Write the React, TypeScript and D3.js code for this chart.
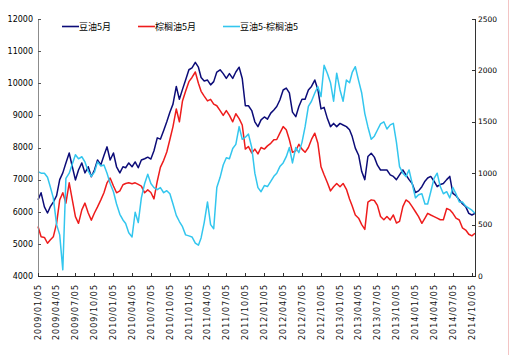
import React from "react";
import * as d3 from "d3";

// Semi-monthly observation dates (5th and 20th of each month), 2009/01 – 2014/10
const dates: Date[] = [];
for (let m = 0; m < 70; m++) {
  dates.push(new Date(2009, m, 5));
  dates.push(new Date(2009, m, 20));
}

// Quarterly tick labels
const tickDates: Date[] = [];
for (let k = 0; k < 24; k++) tickDates.push(new Date(2009, 3 * k, 5));

const leftTicks = [4000, 5000, 6000, 7000, 8000, 9000, 10000, 11000, 12000];
const rightTicks = [0, 500, 1000, 1500, 2000, 2500];

const seriesNames = ["豆油5月", "棕榈油5月", "豆油5-棕榈油5"];

// 豆油5月 (left axis)
const bean = [
  6370, 6590, 6150, 5960, 6150, 6300, 6500, 7000, 7210, 7520,
  7830, 7400, 6990, 7300, 7520, 7210, 7400, 7090, 7300, 7610,
  7460, 7750, 8020, 7610, 7830, 7400, 7210, 7400, 7370, 7520,
  7400, 7550, 7370, 7610, 7650, 7700, 7640, 7900, 8300, 8260,
  8530, 8800, 9100, 9350, 9900, 9500, 9810, 10100, 10420, 10480,
  10650, 10500, 10180, 10070, 10100, 9950, 10050, 10350, 10420, 10300,
  10150, 10300, 10150, 10350, 10500, 10150, 9300, 9300, 9150, 8800,
  8650, 8860, 8950, 8880, 9070, 9170, 9275, 9480, 9790, 9850,
  9700, 9100, 8960, 9275, 9500, 9500, 9790, 9900, 10100, 9800,
  9200, 9250, 8900, 8650, 8750, 8650, 8750, 8700, 8650, 8550,
  8340, 7980, 7760, 7250, 7000, 7720, 7820, 7700, 7450, 7300,
  7300, 7300, 7150, 7100, 7000, 7150, 7300, 7150, 7000, 6880,
  6600, 6650, 6780, 6950, 7050, 7100, 6950, 6780, 6850, 6880,
  7000, 7100, 6570, 6500, 6370, 6250, 6160, 5950, 5900, 5950,
];

// 棕榈油5月 (left axis)
const palm = [
  5540, 5220, 5200, 5020, 5120, 5220, 5640, 6370, 6590, 6270,
  6900, 6370, 5850, 5640, 6060, 6270, 5960, 5740, 5960, 6150,
  6370, 6590, 6900, 7050, 6800, 6590, 6650, 6840, 6880, 6900,
  6870, 6900, 6850, 6800, 6590, 6680, 6600, 6400, 6950, 7380,
  7600, 7860, 8250, 8650, 9200, 8800, 9450, 9750, 10050, 10180,
  10350, 10000, 9750, 9600, 9450, 9500, 9350, 9300, 9150, 9000,
  9150, 9000, 8800, 9050, 8900, 8700, 7950, 8030, 7830, 7950,
  7800, 8000, 7950, 8050, 8130, 8240, 8250, 8445, 8650, 8550,
  8240, 7850, 7900, 8100, 7950, 7850, 8000, 8250, 8445, 8130,
  7400, 7150, 6900, 6650, 6780, 6880, 6780, 6880, 6700, 6400,
  6180, 5900, 5800, 5600, 5450, 6300, 6370, 6350, 6200, 5850,
  5750, 5850, 5744, 5900, 5650, 5700, 6160, 6367, 6300, 6160,
  6000, 5850, 5640, 5800, 5950, 5900, 5850, 5800, 5750, 5750,
  6100, 6060, 5950, 5800, 5744, 5500, 5430, 5300, 5250, 5330,
];

// 豆油5-棕榈油5 (right axis)
const spread = [
  1015, 1000, 1000, 960, 870, 760, 500, 400, 60, 950,
  1000, 1090, 1180, 1140, 1160, 1110, 1020, 970, 1010, 1110,
  1070, 1080, 1000, 900, 820, 700, 600, 545, 510, 420,
  380, 620, 520, 760, 900, 990, 900, 860, 840, 860,
  810, 830, 800, 700, 590, 530, 480, 400, 390, 380,
  320, 300, 370, 520, 720, 500, 460, 860, 960, 1080,
  1150, 1140, 1240, 1280, 1453, 1330, 1350, 1380, 1250, 1000,
  860, 820, 880, 870, 920, 970, 1000, 1064, 1100, 1161,
  1250, 1100, 1250, 1200, 1300, 1450, 1650, 1700, 1780, 1842,
  1745, 2050, 1970, 1880, 1700, 1973, 1810, 1700, 1907, 1880,
  1980, 2036, 1900, 1780, 1580, 1450, 1330, 1360, 1420, 1480,
  1500, 1430, 1470, 1485, 1300, 1064, 1000, 967, 1032, 900,
  760, 790, 800, 700, 700, 820, 950, 1000, 870, 800,
  820, 760, 860, 800, 720, 720, 680, 660, 640, 610,
];

const W = 511;
const H = 355;
const L = 38;
const R = 475;
const T = 19;
const B = 276;

const colors = ["#0c0c78", "#ee1c1c", "#33c6ee"];

export default function App() {
  const x = d3
    .scaleTime()
    .domain([new Date(2009, 0, 5), new Date(2014, 9, 20)])
    .range([L, R]);
  const yL = d3.scaleLinear().domain([4000, 12000]).range([B, T]);
  const yR = d3.scaleLinear().domain([0, 2500]).range([B, T]);
  const fmt = d3.timeFormat("%Y/%m/%d");

  const lineL = d3
    .line<number>()
    .x((_, i) => x(dates[i]))
    .y((d) => yL(d));
  const lineR = d3
    .line<number>()
    .x((_, i) => x(dates[i]))
    .y((d) => yR(d));

  const legend = [
    { x: 62, tx: 79 },
    { x: 138, tx: 155 },
    { x: 223, tx: 240 },
  ];

  const numFont = "'DejaVu Sans', sans-serif";
  const cjkFont = "'Noto Sans CJK SC', sans-serif";

  return (
    <svg
      width={W}
      height={H}
      style={{ position: "fixed", left: 0, top: 0, background: "#fff" }}
    >
      <rect x={0} y={0} width={W} height={H} fill="#fff" />
      <line x1={508.5} x2={508.5} y1={0} y2={H} stroke="#f3c4c4" strokeWidth={1} />

      {/* series */}
      <path d={lineL(bean) || ""} fill="none" stroke={colors[0]} strokeWidth={1.5} strokeLinejoin="round" />
      <path d={lineL(palm) || ""} fill="none" stroke={colors[1]} strokeWidth={1.5} strokeLinejoin="round" />
      <path d={lineR(spread) || ""} fill="none" stroke={colors[2]} strokeWidth={1.5} strokeLinejoin="round" />

      {/* left axis */}
      <line x1={L + 0.5} x2={L + 0.5} y1={T} y2={B} stroke="#8c8c8c" />
      {leftTicks.map((v) => (
        <g key={"l" + v}>
          <line x1={L} x2={L + 3} y1={Math.round(yL(v)) + 0.5} y2={Math.round(yL(v)) + 0.5} stroke="#555" />
          <text
            x={33}
            y={yL(v)}
            dy="0.35em"
            textAnchor="end"
            fontFamily={numFont}
            fontSize={8}
            fill="#000"
          >
            {v}
          </text>
        </g>
      ))}

      {/* right axis */}
      <line x1={R + 0.5} x2={R + 0.5} y1={T} y2={B} stroke="#333" />
      {rightTicks.map((v) => (
        <g key={"r" + v}>
          <line x1={R - 3} x2={R} y1={Math.round(yR(v)) + 0.5} y2={Math.round(yR(v)) + 0.5} stroke="#333" />
          <text
            x={478}
            y={yR(v)}
            dy="0.35em"
            textAnchor="start"
            fontFamily={numFont}
            fontSize={7.5}
            fill="#000"
          >
            {v}
          </text>
        </g>
      ))}

      {/* bottom axis */}
      <line x1={L} x2={R + 1} y1={B + 0.5} y2={B + 0.5} stroke="#222" />
      {tickDates.map((d) => {
        const px = Math.round(x(d)) + 0.5;
        return (
          <g key={"x" + d.getTime()}>
            <line x1={px} x2={px} y1={B} y2={B - 3} stroke="#333" />
            <text
              transform={`translate(${x(d)},${285}) rotate(-90)`}
              dy="0.35em"
              textAnchor="end"
              fontFamily={numFont}
              fontSize={8}
              fill="#111"
              textLength={55}
              lengthAdjust="spacing"
            >
              {fmt(d)}
            </text>
          </g>
        );
      })}

      {/* legend */}
      {legend.map((l, i) => (
        <g key={"lg" + i}>
          <line x1={l.x} x2={l.tx} y1={26.5} y2={26.5} stroke={colors[i]} strokeWidth={1.6} />
          <text x={l.tx} y={30} fontFamily={cjkFont} fontSize={9} fill="#000">
            {seriesNames[i]}
          </text>
        </g>
      ))}
    </svg>
  );
}
